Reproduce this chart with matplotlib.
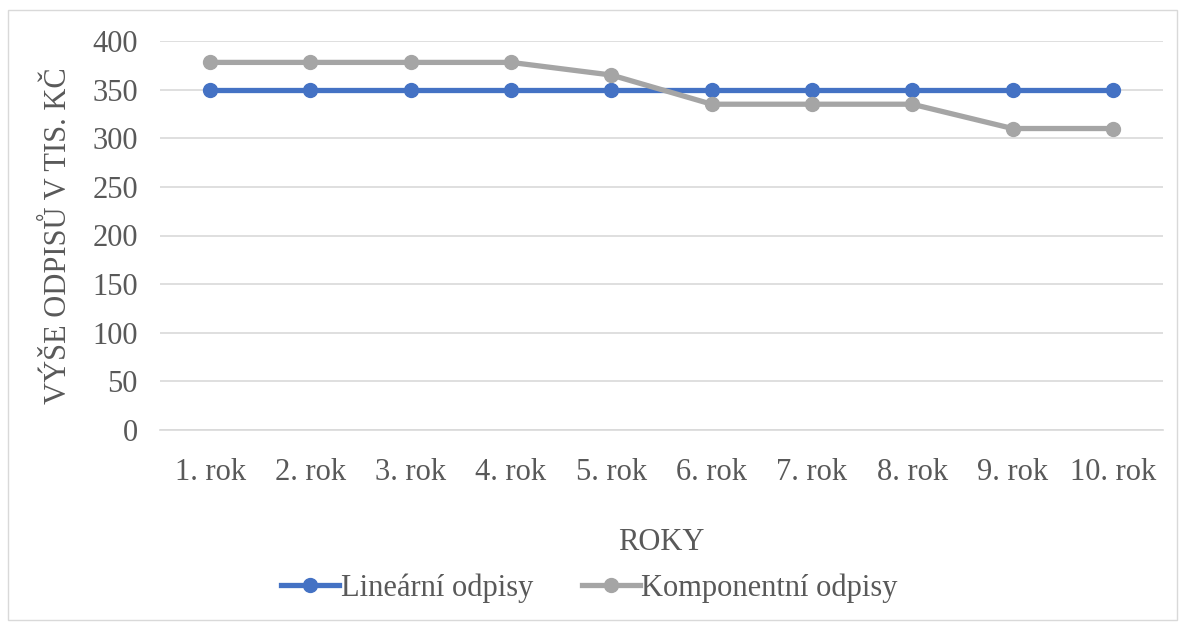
import matplotlib.pyplot as plt
from matplotlib.patches import Rectangle

years = ['1. rok', '2. rok', '3. rok', '4. rok', '5. rok', '6. rok', '7. rok', '8. rok', '9. rok', '10. rok']
linearni = [350, 350, 350, 350, 350, 350, 350, 350, 350, 350]
komponentni = [378, 378, 378, 378, 365, 335, 335, 335, 310, 310]

txt = '#595959'
fs = 22
plt.rcParams['font.family'] = ['Liberation Serif', 'DejaVu Serif']

fig = plt.figure(figsize=(11.79, 6.22), dpi=100)
ax = fig.add_axes([160/1179, 1-430/622, (1163-160)/1179, (430-41)/622])

x = list(range(len(years)))
ax.plot(x, linearni, color='#4472C4', lw=3.8, marker='o', ms=10, label='Lineární odpisy', zorder=3)
ax.plot(x, komponentni, color='#A5A5A5', lw=3.8, marker='o', ms=10, label='Komponentní odpisy', zorder=3)

ax.set_xlim(-0.5, len(years) - 0.5)
ax.set_ylim(0, 400)
ax.set_yticks(range(0, 401, 50))
ax.set_xticks(x)
ax.set_xticklabels(years)
ax.grid(axis='y', color='#D9D9D9', lw=1.2)
ax.set_axisbelow(True)
for s in ['top', 'right', 'left']:
    ax.spines[s].set_visible(False)
ax.spines['bottom'].set_color('#D9D9D9')
ax.spines['bottom'].set_linewidth(1.2)
ax.tick_params(axis='both', length=0, labelsize=fs, colors=txt)
ax.tick_params(axis='y', pad=16)
ax.tick_params(axis='x', pad=20)

ax.set_xlabel('ROKY', fontsize=fs, color=txt, labelpad=30)
ax.set_ylabel('VÝŠE ODPISŮ V TIS. KČ', fontsize=fs, color=txt, labelpad=14)

fig.legend(loc='center', bbox_to_anchor=(0.5, 1-588/622), ncol=2, frameon=False,
           fontsize=fs, labelcolor=txt, handlelength=1.9, handletextpad=0.05, columnspacing=1.6)

fig.patches.append(Rectangle((8/1179, 2/622), 1169/1179, 610/622, transform=fig.transFigure,
                             fill=False, edgecolor='#D9D9D9', lw=1.0))

fig.savefig('out.png', dpi=100)
